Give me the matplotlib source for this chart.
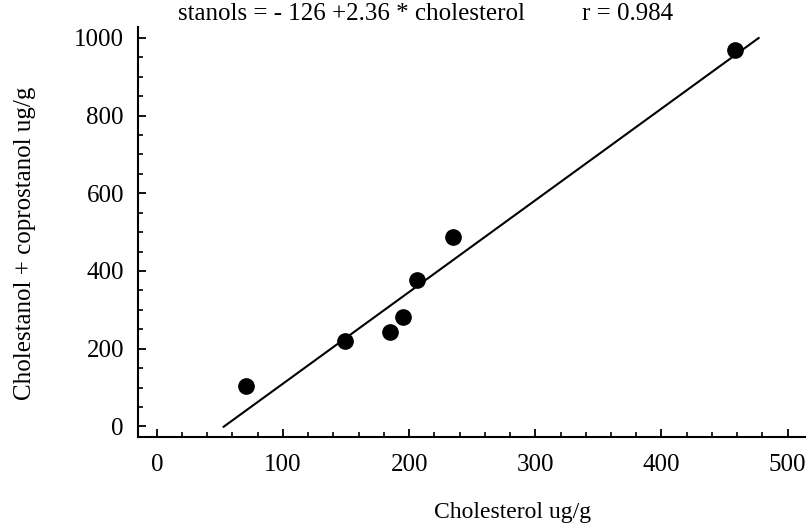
import matplotlib
matplotlib.use("Agg")
import matplotlib.pyplot as plt
from matplotlib.ticker import MultipleLocator
import numpy as np

cholesterol = [71, 149, 185, 195, 206, 235, 458]
stanols = [103, 220, 243, 282, 377, 488, 969]
intercept = -126
slope = 2.36
fit_range = [53, 477]
xticks = [0, 100, 200, 300, 400, 500]
yticks = [0, 200, 400, 600, 800, 1000]
eq_left = "stanols = - 126 +2.36 * cholesterol"
eq_right = "r = 0.984"

plt.rcParams['font.family'] = ['Liberation Serif', 'DejaVu Serif']

fig = plt.figure(figsize=(8.11, 5.30), dpi=100)
ax = fig.add_axes([0.170, 0.175, 0.823, 0.774])

xf = np.array(fit_range, dtype=float)
ax.plot(xf, intercept + slope * xf, color='black', lw=1.5, zorder=2)
ax.plot(cholesterol, stanols, 'o', color='black', markersize=11, zorder=3)

ax.set_xlim(-15, 514)
ax.set_ylim(-28, 1028)
ax.set_xticks(xticks)
ax.set_yticks(yticks)
ax.xaxis.set_minor_locator(MultipleLocator(20))
ax.yaxis.set_minor_locator(MultipleLocator(50))
ax.tick_params(which='major', direction='in', length=6, width=1.3, labelsize=18, pad=10)
ax.tick_params(which='minor', direction='in', length=3.5, width=1.2)
ax.tick_params(axis='x', which='major', pad=12)

for s in ['top', 'right']:
    ax.spines[s].set_visible(False)
for s in ['left', 'bottom']:
    ax.spines[s].set_linewidth(1.5)

ax.set_xlabel("Cholesterol ug/g", fontsize=17)
ax.set_ylabel("Cholestanol + coprostanol ug/g", fontsize=18)
ax.xaxis.set_label_coords(0.562, -0.158)
ax.yaxis.set_label_coords(-0.152, 0.473)

fig.text(178 / 811, 1 - 14 / 530, eq_left, fontsize=18, ha='left', va='center')
fig.text(582 / 811, 1 - 14 / 530, eq_right, fontsize=18, ha='left', va='center')

fig.savefig("out.png", dpi=100)
